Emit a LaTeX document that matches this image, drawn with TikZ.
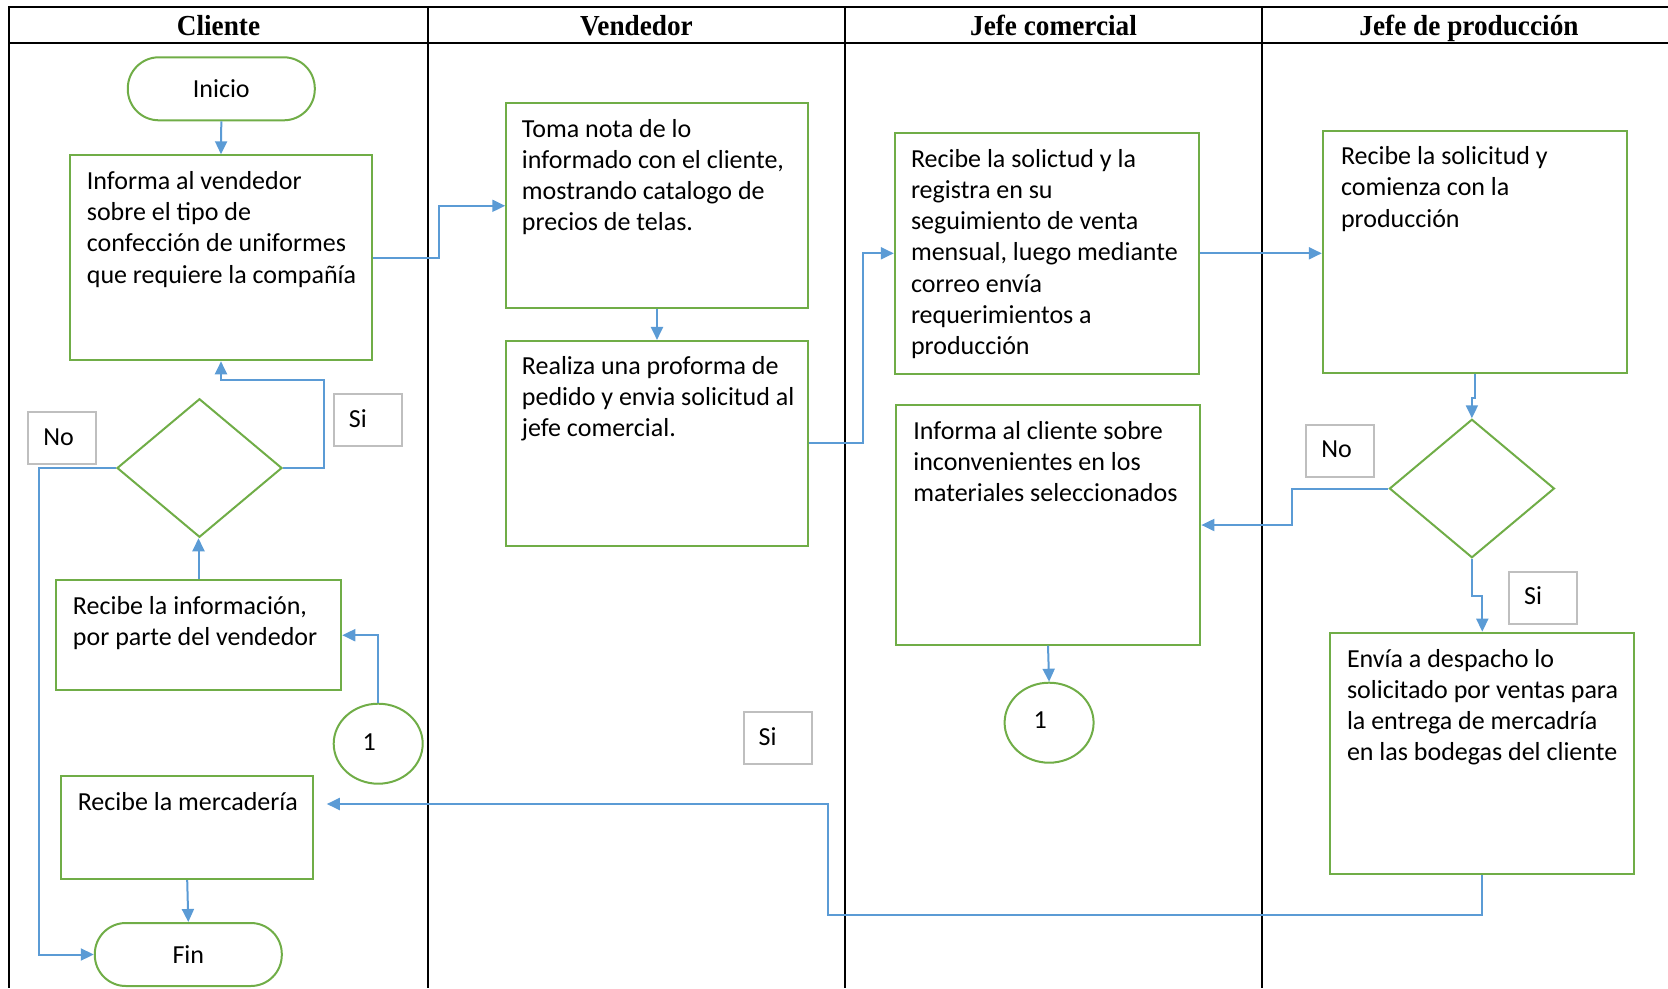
\documentclass[tikz,border=0pt]{standalone}
\usepackage{fontspec}
\setmainfont{Carlito}
\newfontfamily\headfont{Liberation Serif}[FakeStretch=0.94]
\usetikzlibrary{shapes.geometric, arrows.meta, calc}
\definecolor{flowgreen}{HTML}{70AD47}
\definecolor{flowblue}{HTML}{5B9BD5}
\definecolor{lblgray}{HTML}{BFBFBF}
\newcommand{\fl}{\rule{0pt}{0.75em}}
\begin{document}
\begin{tikzpicture}[x=1pt, y=-1pt,
  every node/.style={font=\fontsize{26}{31.2}\selectfont},
  box/.style={draw=flowgreen, line width=2pt, rectangle, inner sep=0pt},
  term/.style={draw=flowgreen, line width=2pt, rectangle, rounded corners=31pt, inner sep=0pt, minimum width=187pt, minimum height=63pt},
  dec/.style={draw=flowgreen, line width=2pt, diamond, inner sep=0pt, minimum width=165pt, minimum height=138.5pt},
  conn/.style={draw=flowgreen, line width=2pt, ellipse, inner sep=0pt, minimum width=89pt, minimum height=80pt},
  conntext/.style={inner sep=0pt},
  lbl/.style={draw=lblgray, line width=2pt, rectangle, inner sep=0pt, minimum width=68pt, minimum height=52pt},
  lbltext/.style={anchor=west, inner sep=0pt},
  txt/.style={anchor=north west, align=left, inner sep=0pt},
  flow/.style={draw=flowblue, line width=2pt, -{Triangle[length=13pt,width=12pt]}},
  lane/.style={draw=black, line width=2pt},
  head/.style={font=\headfont\bfseries\fontsize{29}{31}\selectfont, anchor=base, inner sep=0pt}
]
\useasboundingbox (0,0) rectangle (1668,988);

% swimlanes
\draw[lane] (9,7) -- (1668,7);
\draw[lane] (9,42.5) -- (1668,42.5);
\draw[lane] (9,6) -- (9,988);
\draw[lane] (428,6) -- (428,988);
\draw[lane] (845,6) -- (845,988);
\draw[lane] (1262,6) -- (1262,988);

\node[head] (h1) at (218.5,35) {Cliente};
\node[head] (h2) at (636.5,35) {Vendedor};
\node[head] (h3) at (1053.5,35) {Jefe comercial};
\node[head] (h4) at (1469,35) {Jefe de producción};

% Cliente lane
\node[term] (inicio) at (221.3,88.8) {Inicio};
\node[box, minimum width=302.7pt, minimum height=205pt] (informa) at (221,257.8) {};
\node[txt] (informa-t) at ([xshift=18pt,yshift=-15.5pt]informa.north west) {\fl Informa al vendedor\\sobre el tipo de\\confección de uniformes\\que requiere la compañía};
\node[dec] (d1) at (199.5,468) {};
\node[lbl] (no1) at (62.2,438.3) {};
\node[lbltext] (no1-t) at ([xshift=16pt,yshift=1.5pt]no1.west) {No};
\node[lbl] (si1) at (367.7,419.5) {};
\node[lbltext] (si1-t) at ([xshift=16pt,yshift=1pt]si1.west) {Si};
\node[box, minimum width=285.5pt, minimum height=109.7pt] (recinfo) at (198.5,635.2) {};
\node[txt] (recinfo-t) at ([xshift=18pt,yshift=-15.5pt]recinfo.north west) {\fl Recibe la información,\\por parte del vendedor};
\node[conn] (c1a) at (378.2,743.7) {};
\node[conntext] (c1a-t) at ([xshift=-9pt,yshift=2pt]c1a.center) {1};
\node[box, minimum width=252.2pt, minimum height=102.7pt] (merc) at (187.2,827.7) {};
\node[txt] (merc-t) at ([xshift=17.5pt,yshift=-15.5pt]merc.north west) {\fl Recibe la mercadería};
\node[term] (fin) at (188.3,954.5) {Fin};

% Vendedor lane
\node[box, minimum width=301.5pt, minimum height=205pt] (toma) at (657,205.8) {};
\node[txt] (toma-t) at ([xshift=16.5pt,yshift=-15pt]toma.north west) {\fl Toma nota de lo\\informado con el cliente,\\mostrando catalogo de\\precios de telas.};
\node[box, minimum width=301.5pt, minimum height=204.7pt] (realiza) at (657,443.3) {};
\node[txt] (realiza-t) at ([xshift=16.5pt,yshift=-14.5pt]realiza.north west) {\fl Realiza una proforma de\\pedido y envia solicitud al\\jefe comercial.};
\node[lbl] (si2) at (777.5,738.3) {};
\node[lbltext] (si2-t) at ([xshift=16pt,yshift=2pt]si2.west) {Si};

% Jefe comercial lane
\node[box, minimum width=304pt, minimum height=241.3pt] (recsol) at (1046.8,253.3) {};
\node[txt] (recsol-t) at ([xshift=17pt,yshift=-16pt]recsol.north west) {\fl Recibe la solictud y la\\registra en su\\seguimiento de venta\\mensual, luego mediante\\correo envía\\requerimientos a\\producción};
\node[box, minimum width=304.7pt, minimum height=239.3pt] (infcli) at (1048,525) {};
\node[txt] (infcli-t) at ([xshift=18.5pt,yshift=-15.5pt]infcli.north west) {\fl Informa al cliente sobre\\inconvenientes en los\\materiales seleccionados};
\node[conn] (c1b) at (1049.1,722.7) {};
\node[conntext] (c1b-t) at ([xshift=-9pt,yshift=3pt]c1b.center) {1};

% Jefe de produccion lane
\node[box, minimum width=304.6pt, minimum height=241.7pt] (recprod) at (1475.1,251.8) {};
\node[txt] (recprod-t) at ([xshift=19pt,yshift=-15pt]recprod.north west) {\fl Recibe la solicitud y\\comienza con la\\producción};
\node[dec] (d2) at (1471.9,488.5) {};
\node[lbl] (no2) at (1340.2,450.5) {};
\node[lbltext] (no2-t) at ([xshift=16pt,yshift=1pt]no2.west) {No};
\node[lbl] (si3) at (1543,597.8) {};
\node[lbltext] (si3-t) at ([xshift=16pt,yshift=2pt]si3.west) {Si};
\node[box, minimum width=304pt, minimum height=241.3pt] (envia) at (1482.3,753.3) {};
\node[txt] (envia-t) at ([xshift=17.5pt,yshift=-16pt]envia.north west) {\fl Envía a despacho lo\\solicitado por ventas para\\la entrega de mercadría\\en las bodegas del cliente};

% connectors
\draw[flow] (inicio.south) -- (informa.north);
\draw[flow] (informa.east) -- ++(66,0) |- (toma.west);
\draw[flow] (toma.south) -- (realiza.north);
\draw[flow] (realiza.east) -- ++(54,0) |- (recsol.west);
\draw[flow] (recsol.east) -- (recsol.east -| recprod.west);
\draw[flow] (recprod.south) -- ++(0,24) -| (d2.north);
\draw[flow] (d2.west) -- ++(-96,0) |- (infcli.east);
\draw[flow] (d2.south) -- ++(0,37) -| (envia.north);
\coordinate (j1) at (827.5,915);
\coordinate (mercin) at ([xshift=12.5pt,yshift=23.7pt]merc.east);
\draw[flow] (envia.south) |- (j1) |- (mercin);
\draw[flow] (merc.south) -- (fin.north);
\draw[flow] (d1.west) -- ++(-77.4,0) |- (fin.west);
\coordinate (j2) at ([yshift=-18.4pt]informa.south);
\draw[flow] (d1.east) -- ++(41,0) |- (j2) -- (informa.south);
\draw[flow] (recinfo.north) -- (recinfo.north |- d1.south);
\draw[flow] (c1a.north) |- (recinfo.east);
\draw[flow] (infcli.south) -- (c1b.north);
\end{tikzpicture}
\end{document}
